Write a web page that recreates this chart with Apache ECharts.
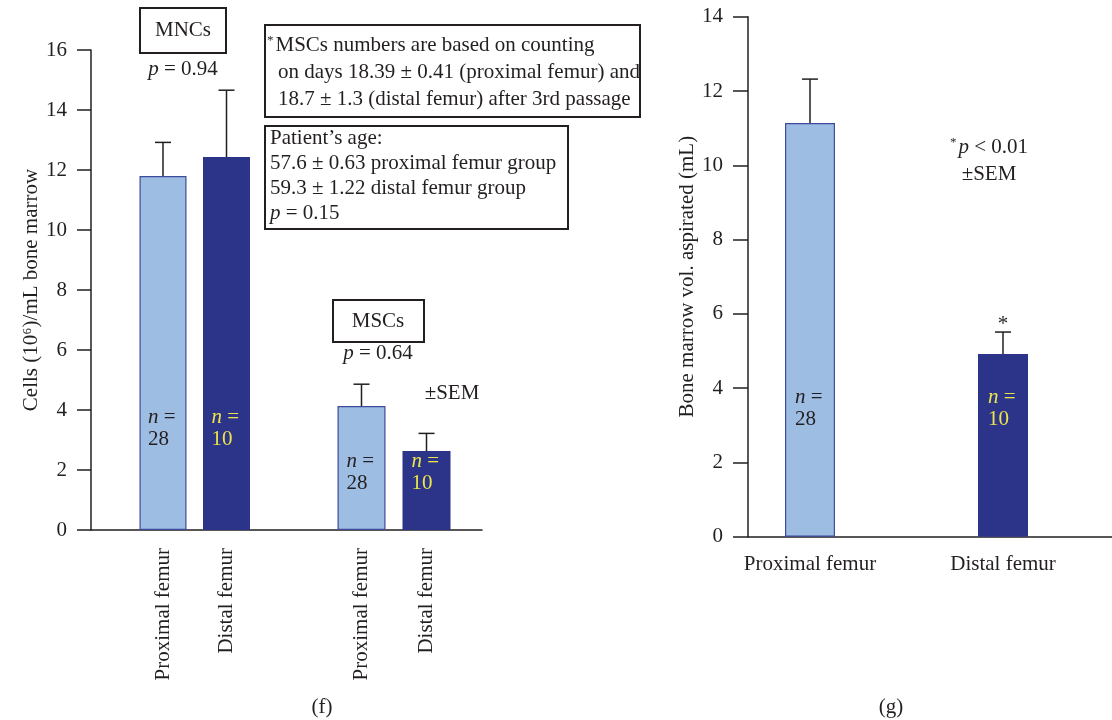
<!DOCTYPE html>
<html><head><meta charset="utf-8">
<script src="https://cdn.jsdelivr.net/npm/echarts@6/dist/echarts.min.js"></script>
<style>html,body{margin:0;padding:0;background:#fff}#c{width:1112px;height:720px}</style>
</head><body><div id="c"></div>
<script>
// ---------- data ----------
const groups = ['MNCs', 'MSCs'];
const sites = ['Proximal femur', 'Distal femur'];
const nCounts = [28, 10];
const mncMean = [11.8, 12.43];
const mncSem = [1.12, 2.23];
const mscMean = [4.13, 2.63];
const mscSem = [0.73, 0.59];
const volMean = [11.14, 4.92];
const volSem = [1.18, 0.59];
const volSig = ['', '*'];
const cellTicks = [0, 16, 2];   // min, max, step
const volTicks = [0, 14, 2];

// ---------- style ----------
const FONT = '"Liberation Serif", "Times New Roman", serif';
const INK = '#231f20';
const LIGHT = '#9ebde3', LIGHT_EDGE = '#3d4b9c', DARK = '#2b3489', YELLOW = '#ece44a';
const FS = 21;

function hiddenY(gi, t) {
  return {gridIndex: gi, type: 'value', min: t[0], max: t[1], interval: t[2], show: false};
}
function frameY(gi, t, name, gap, tickLen, margin) {
  return {gridIndex: gi, type: 'value', min: t[0], max: t[1], interval: t[2],
    name: name, nameLocation: 'middle', nameGap: gap, nameRotate: 90,
    nameTextStyle: {fontFamily: FONT, fontSize: FS, color: INK},
    axisLine: {show: true, lineStyle: {color: INK, width: 1.5}},
    axisTick: {show: true, length: tickLen, lineStyle: {color: INK, width: 1.5}},
    axisLabel: {margin: margin, fontFamily: FONT, fontSize: FS, color: INK},
    splitLine: {show: false}};
}
function barX(gi, rotate, margin) {
  return {gridIndex: gi, type: 'category', data: sites, boundaryGap: false,
    axisLine: {show: false}, axisTick: {show: false},
    axisLabel: {rotate: rotate, margin: margin, fontFamily: FONT, fontSize: FS, color: INK, interval: 0}};
}
function barSeries(ai, means, width, dist) {
  return {type: 'bar', xAxisIndex: ai, yAxisIndex: ai, barWidth: width, silent: true, animation: false,
    data: means.map(function (v, i) {
      const c = i === 0 ? INK : YELLOW;
      return {value: v,
        itemStyle: i === 0 ? {color: LIGHT, borderColor: LIGHT_EDGE, borderWidth: 1.2}
                           : {color: DARK, borderColor: DARK, borderWidth: 0},
        label: {show: true, position: 'insideBottom', distance: dist, align: 'left', offset: [-15, 0],
          formatter: '{n|n}{t| =}\n{t|' + nCounts[i] + '}',
          rich: {n: {fontFamily: FONT, fontStyle: 'italic', fontSize: FS, color: c, lineHeight: 22},
                 t: {fontFamily: FONT, fontSize: FS, color: c, lineHeight: 22}}}};
    })};
}
function errSeries(ai, means, sems, sig) {
  return {type: 'custom', xAxisIndex: ai, yAxisIndex: ai, silent: true, animation: false, z: 5,
    data: means.map(function (m, i) { return [i, m, m + sems[i]]; }),
    renderItem: function (params, api) {
      const p0 = api.coord([api.value(0), api.value(1)]);
      const p1 = api.coord([api.value(0), api.value(2)]);
      const cap = 8;
      const st = {stroke: INK, lineWidth: 1.5};
      const kids = [
        {type: 'line', shape: {x1: p0[0], y1: p0[1], x2: p1[0], y2: p1[1]}, style: st},
        {type: 'line', shape: {x1: p1[0] - cap, y1: p1[1], x2: p1[0] + cap, y2: p1[1]}, style: st}
      ];
      const s = sig && sig[params.dataIndex];
      if (s) kids.push({type: 'text', x: p1[0], y: p1[1] - 8,
        style: {text: s, fontFamily: FONT, fontSize: 21, fill: INK, align: 'center', verticalAlign: 'middle'}});
      return {type: 'group', children: kids};
    }};
}
function txt(x, y, text, align, extra) {
  return Object.assign({type: 'text', x: x, y: y, style: {text: text, fontFamily: FONT, fontSize: FS, fill: INK,
    align: align || 'center', verticalAlign: 'middle',
    rich: {i: {fontFamily: FONT, fontSize: FS, fontStyle: 'italic', fill: INK},
           r: {fontFamily: FONT, fontSize: FS, fill: INK},
           s: {fontFamily: FONT, fontSize: 13, fill: INK, verticalAlign: 'top', padding: [0, 2, 0, 0]}}}}, extra || {});
}
function box(x, y, w, h) {
  return {type: 'rect', shape: {x: x, y: y, width: w, height: h}, style: {fill: '#fff', stroke: INK, lineWidth: 2}, z: -1};
}

const chart = echarts.init(document.getElementById('c'), null, {renderer: 'canvas'});
chart.setOption({
  backgroundColor: '#fff',
  animation: false,
  grid: [
    {left: 91, top: 50, width: 391, height: 480, containLabel: false, outerBoundsMode: 'none'},     // 0 frame (f)
    {left: 163, top: 50, width: 63.5, height: 480, containLabel: false, outerBoundsMode: 'none'},   // 1 MNC bars
    {left: 361.5, top: 50, width: 65, height: 480, containLabel: false, outerBoundsMode: 'none'},   // 2 MSC bars
    {left: 748, top: 16.7, right: -113, height: 520, containLabel: false, outerBoundsMode: 'none'}, // 3 frame (g)
    {left: 810, top: 16.7, width: 193, height: 520, containLabel: false, outerBoundsMode: 'none'}   // 4 volume bars
  ],
  xAxis: [
    {gridIndex: 0, type: 'category', data: groups, axisLabel: {show: false},
      axisLine: {lineStyle: {color: INK, width: 1.5}}, axisTick: {length: 8, lineStyle: {color: INK, width: 1.5}}},
    barX(1, 90, 18),
    barX(2, 90, 18),
    {gridIndex: 3, type: 'category', data: sites.concat(['']), axisLabel: {show: false},
      axisLine: {lineStyle: {color: INK, width: 1.5}},
      axisTick: {length: 8, interval: function (i) { return i < 2; }, lineStyle: {color: INK, width: 1.5}}},
    barX(4, 0, 17)
  ],
  yAxis: [
    frameY(0, cellTicks, 'Cells (10\u2076)/mL bone marrow', 48, 14, 24),
    hiddenY(1, cellTicks),
    hiddenY(2, cellTicks),
    frameY(3, volTicks, 'Bone marrow vol. aspirated (mL)', 50, 15, 25),
    hiddenY(4, volTicks)
  ],
  series: [
    barSeries(1, mncMean, 47, 80), errSeries(1, mncMean, mncSem),
    barSeries(2, mscMean, 48, 36), errSeries(2, mscMean, mscSem),
    barSeries(4, volMean, 50, 106), errSeries(4, volMean, volSem, volSig)
  ],
  graphic: [
    box(140, 8, 86, 45), txt(183, 30, 'MNCs'),
    txt(183, 69, '{i|p}{r| = 0.94}'),
    box(265, 25, 375, 92),
    txt(267, 45, '{s|*}{r|MSCs numbers are based on counting}', 'left'),
    txt(278, 72, 'on days 18.39 \u00b1 0.41 (proximal femur) and', 'left'),
    txt(278, 99, '18.7 \u00b1 1.3 (distal femur) after 3rd passage', 'left'),
    box(265, 126, 303, 103),
    txt(270, 138, 'Patient\u2019s age:', 'left'),
    txt(270, 163, '57.6 \u00b1 0.63 proximal femur group', 'left'),
    txt(270, 188, '59.3 \u00b1 1.22 distal femur group', 'left'),
    txt(270, 213, '{i|p}{r| = 0.15}', 'left'),
    box(333, 300, 91, 42), txt(378, 321, 'MSCs'),
    txt(378, 353, '{i|p}{r| = 0.64}'),
    txt(452, 393, '\u00b1SEM'),
    txt(989, 147, '{s|*}{i|p}{r| < 0.01}'),
    txt(989, 174, '\u00b1SEM'),
    txt(322, 707, '(f)'),
    txt(891, 707, '(g)')
  ]
});
</script></body></html>
